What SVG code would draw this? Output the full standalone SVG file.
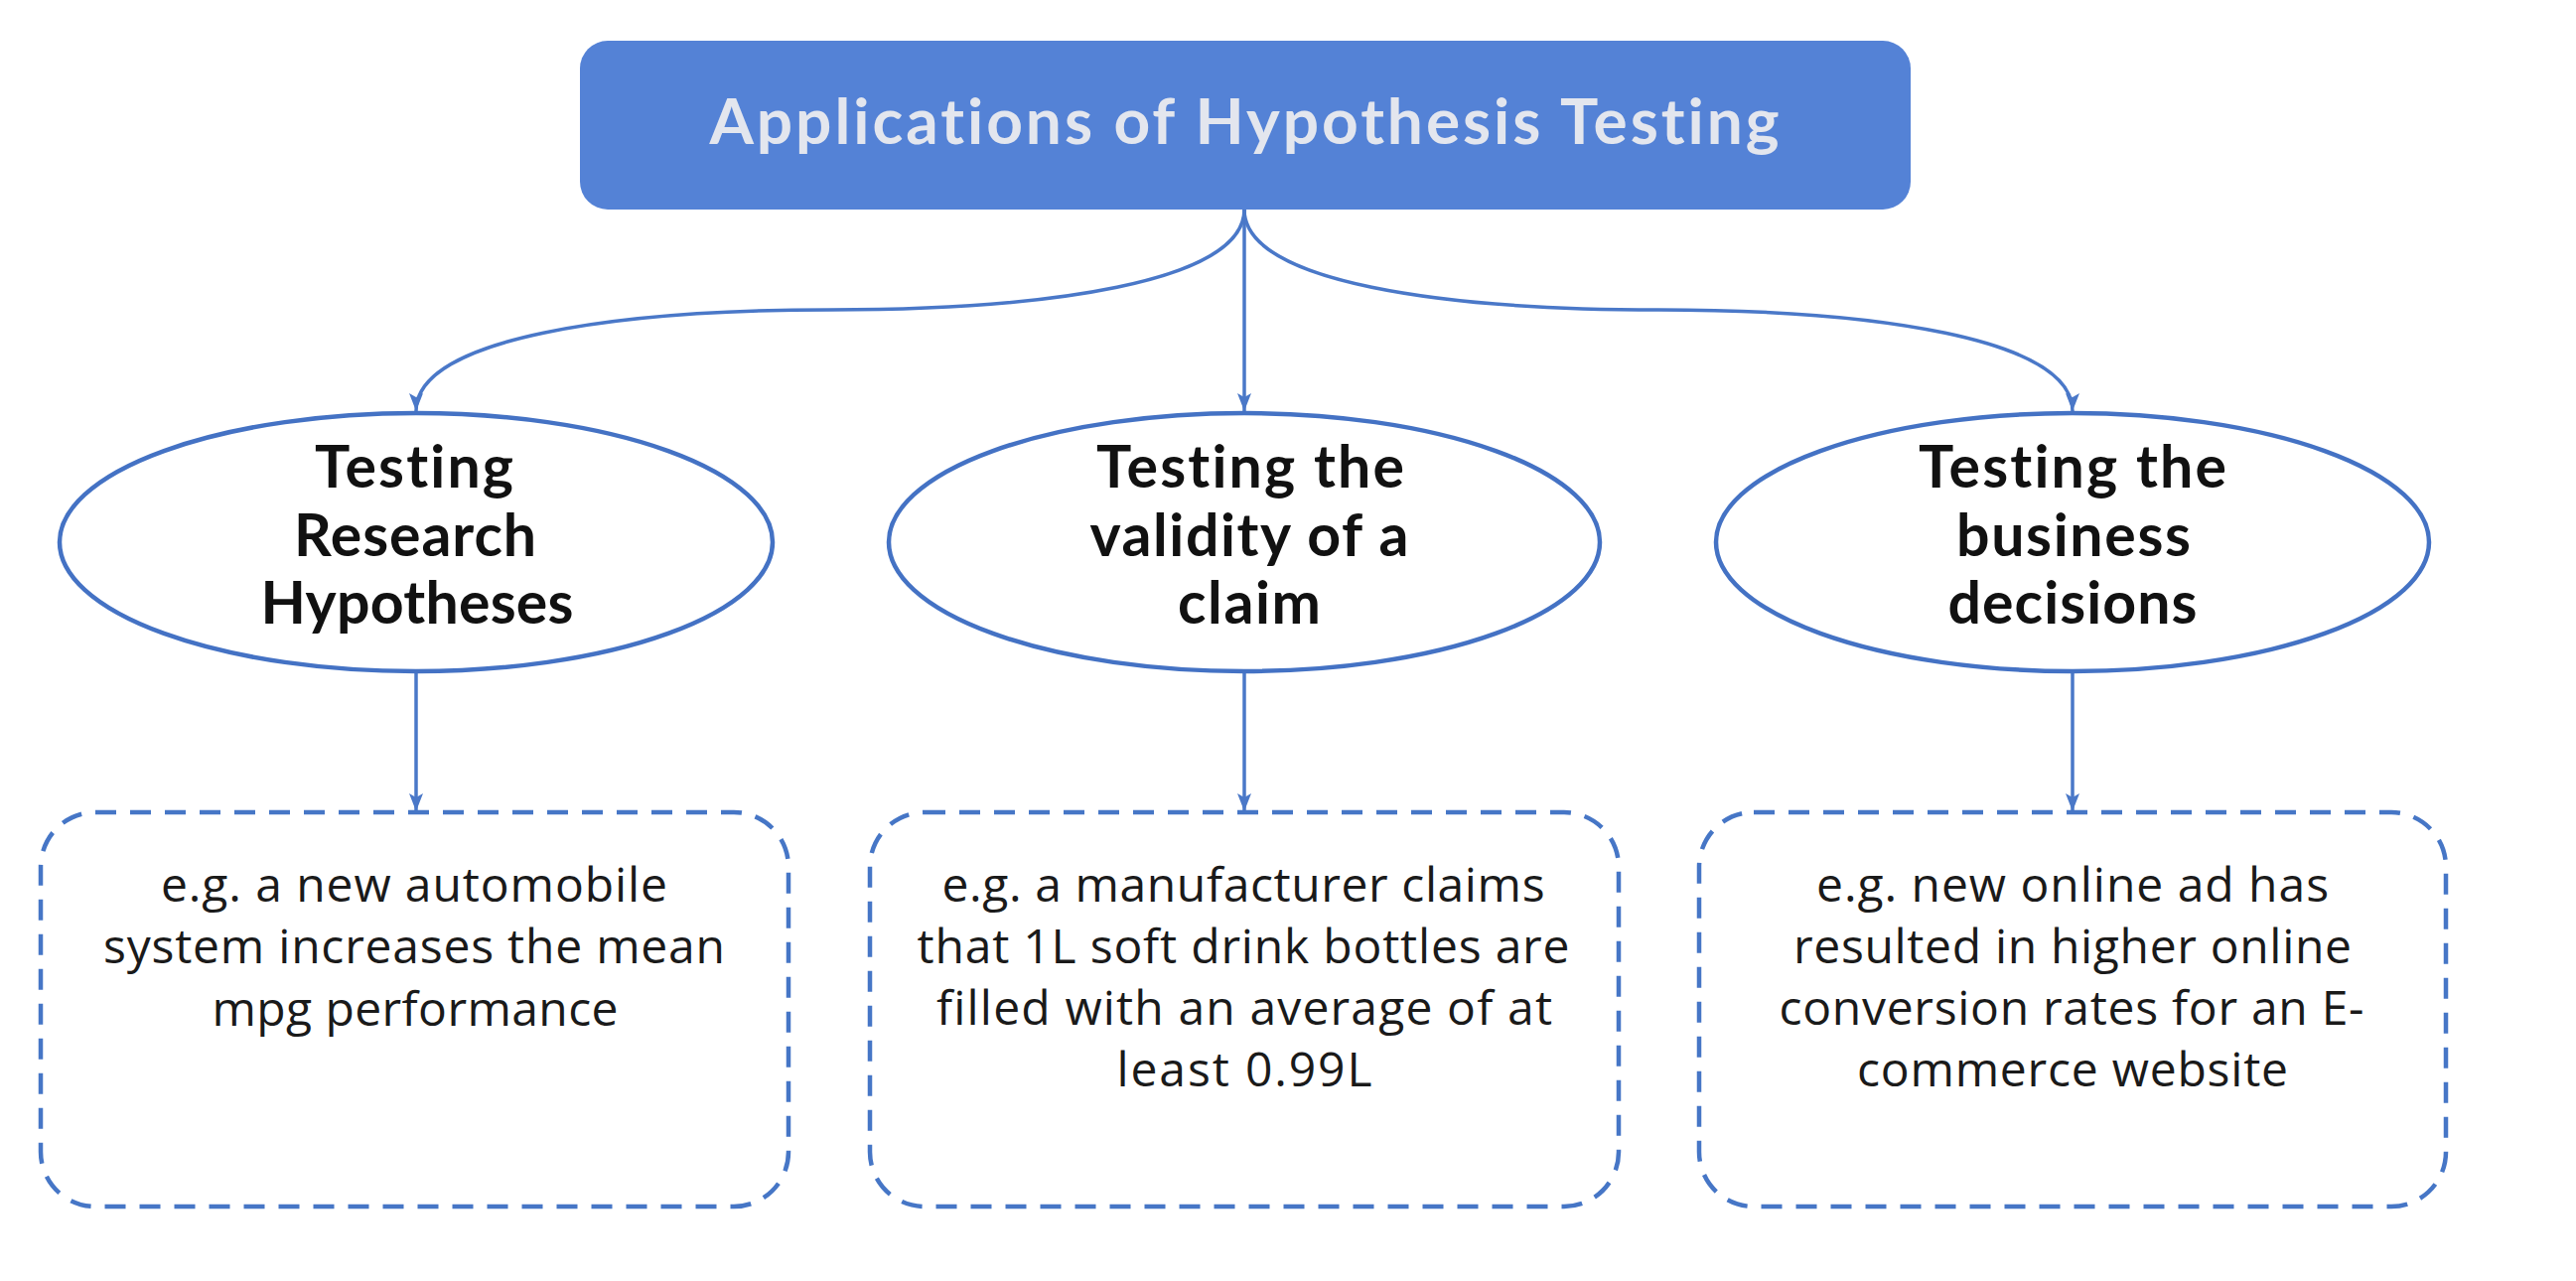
<svg xmlns="http://www.w3.org/2000/svg" width="2594" height="1290" viewBox="0 0 2594 1290">
<style>
text{font-variant-ligatures:none}
.title{font-family:Lato,"Open Sans","Liberation Sans",sans-serif;font-weight:700;font-size:64px;fill:#e3e6ee;text-anchor:middle}
.ell{fill:#ffffff;stroke:#4472c4;stroke-width:4.5}
.etxt{font-family:Lato,"Open Sans","Liberation Sans",sans-serif;font-weight:700;font-size:59px;fill:#111111;text-anchor:middle}
.box{fill:#ffffff;stroke:#4676c6;stroke-width:4.5;stroke-dasharray:21 14}
.btxt{font-family:"Open Sans",Lato,"Liberation Sans",sans-serif;font-weight:400;font-size:48px;fill:#1a1a1a;text-anchor:middle}
.conn{fill:none;stroke:#4a78c8;stroke-width:3.5}
</style>
<defs>
<marker id="arr" markerUnits="userSpaceOnUse" markerWidth="20" markerHeight="16" refX="18" refY="7" orient="auto">
<path d="M0,0 L18,7 L0,14 L4,7 z" fill="#4a78c8"/>
</marker>
</defs>
<rect width="2594" height="1290" fill="#ffffff"/>
<g id="connectors">
<path class="conn" d="M1253,211 C1253,285 1050,312 836,312 C622,312 419,340 419,414" marker-end="url(#arr)"/>
<path class="conn" d="M1253,211 L1253,414" marker-end="url(#arr)"/>
<path class="conn" d="M1253,211 C1253,285 1456,312 1670,312 C1884,312 2087,340 2087,414" marker-end="url(#arr)"/>
<path class="conn" d="M419,676 L419,817" marker-end="url(#arr)"/>
<path class="conn" d="M1253,676 L1253,817" marker-end="url(#arr)"/>
<path class="conn" d="M2087,676 L2087,817" marker-end="url(#arr)"/>
</g>
<g id="title">
<rect x="584" y="41" width="1340" height="170" rx="28" ry="28" fill="#5482d6"/>
<text class="title" x="1253" y="145" textLength="1077">Applications of Hypothesis Testing</text>
</g>
<g id="node-research">
<ellipse class="ell" cx="419" cy="546" rx="359" ry="130"/>
<text class="etxt" x="417" y="491" textLength="200">Testing</text>
<text class="etxt" x="418" y="560" textLength="244">Research</text>
<text class="etxt" x="420" y="628" textLength="315">Hypotheses</text>
</g>
<g id="node-claim">
<ellipse class="ell" cx="1253" cy="546" rx="358" ry="130"/>
<text class="etxt" x="1259" y="491" textLength="310">Testing the</text>
<text class="etxt" x="1258" y="560" textLength="321">validity of a</text>
<text class="etxt" x="1258" y="628" textLength="144">claim</text>
</g>
<g id="node-business">
<ellipse class="ell" cx="2087" cy="546" rx="359" ry="130"/>
<text class="etxt" x="2087" y="491" textLength="310">Testing the</text>
<text class="etxt" x="2088" y="560" textLength="236">business</text>
<text class="etxt" x="2087" y="628" textLength="251">decisions</text>
</g>
<g id="example-research">
<rect class="box" x="41" y="818" width="753" height="397" rx="55" ry="55"/>
<text class="btxt" x="417" y="908" textLength="510">e.g. a new automobile</text>
<text class="btxt" x="417" y="970" textLength="626">system increases the mean</text>
<text class="btxt" x="418" y="1033" textLength="409">mpg performance</text>
</g>
<g id="example-claim">
<rect class="box" x="876" y="818" width="754" height="397" rx="55" ry="55"/>
<text class="btxt" x="1252" y="908" textLength="607">e.g. a manufacturer claims</text>
<text class="btxt" x="1252" y="970" textLength="657">that 1L soft drink bottles are</text>
<text class="btxt" x="1253" y="1032" textLength="620">filled with an average of at</text>
<text class="btxt" x="1253" y="1094" textLength="257">least 0.99L</text>
</g>
<g id="example-business">
<rect class="box" x="1711" y="818" width="752" height="397" rx="55" ry="55"/>
<text class="btxt" x="2087" y="908" textLength="516">e.g. new online ad has</text>
<text class="btxt" x="2087" y="970" textLength="562">resulted in higher online</text>
<text class="btxt" x="2086" y="1032" textLength="589">conversion rates for an E-</text>
<text class="btxt" x="2087" y="1094" textLength="434">commerce website</text>
</g>
</svg>
